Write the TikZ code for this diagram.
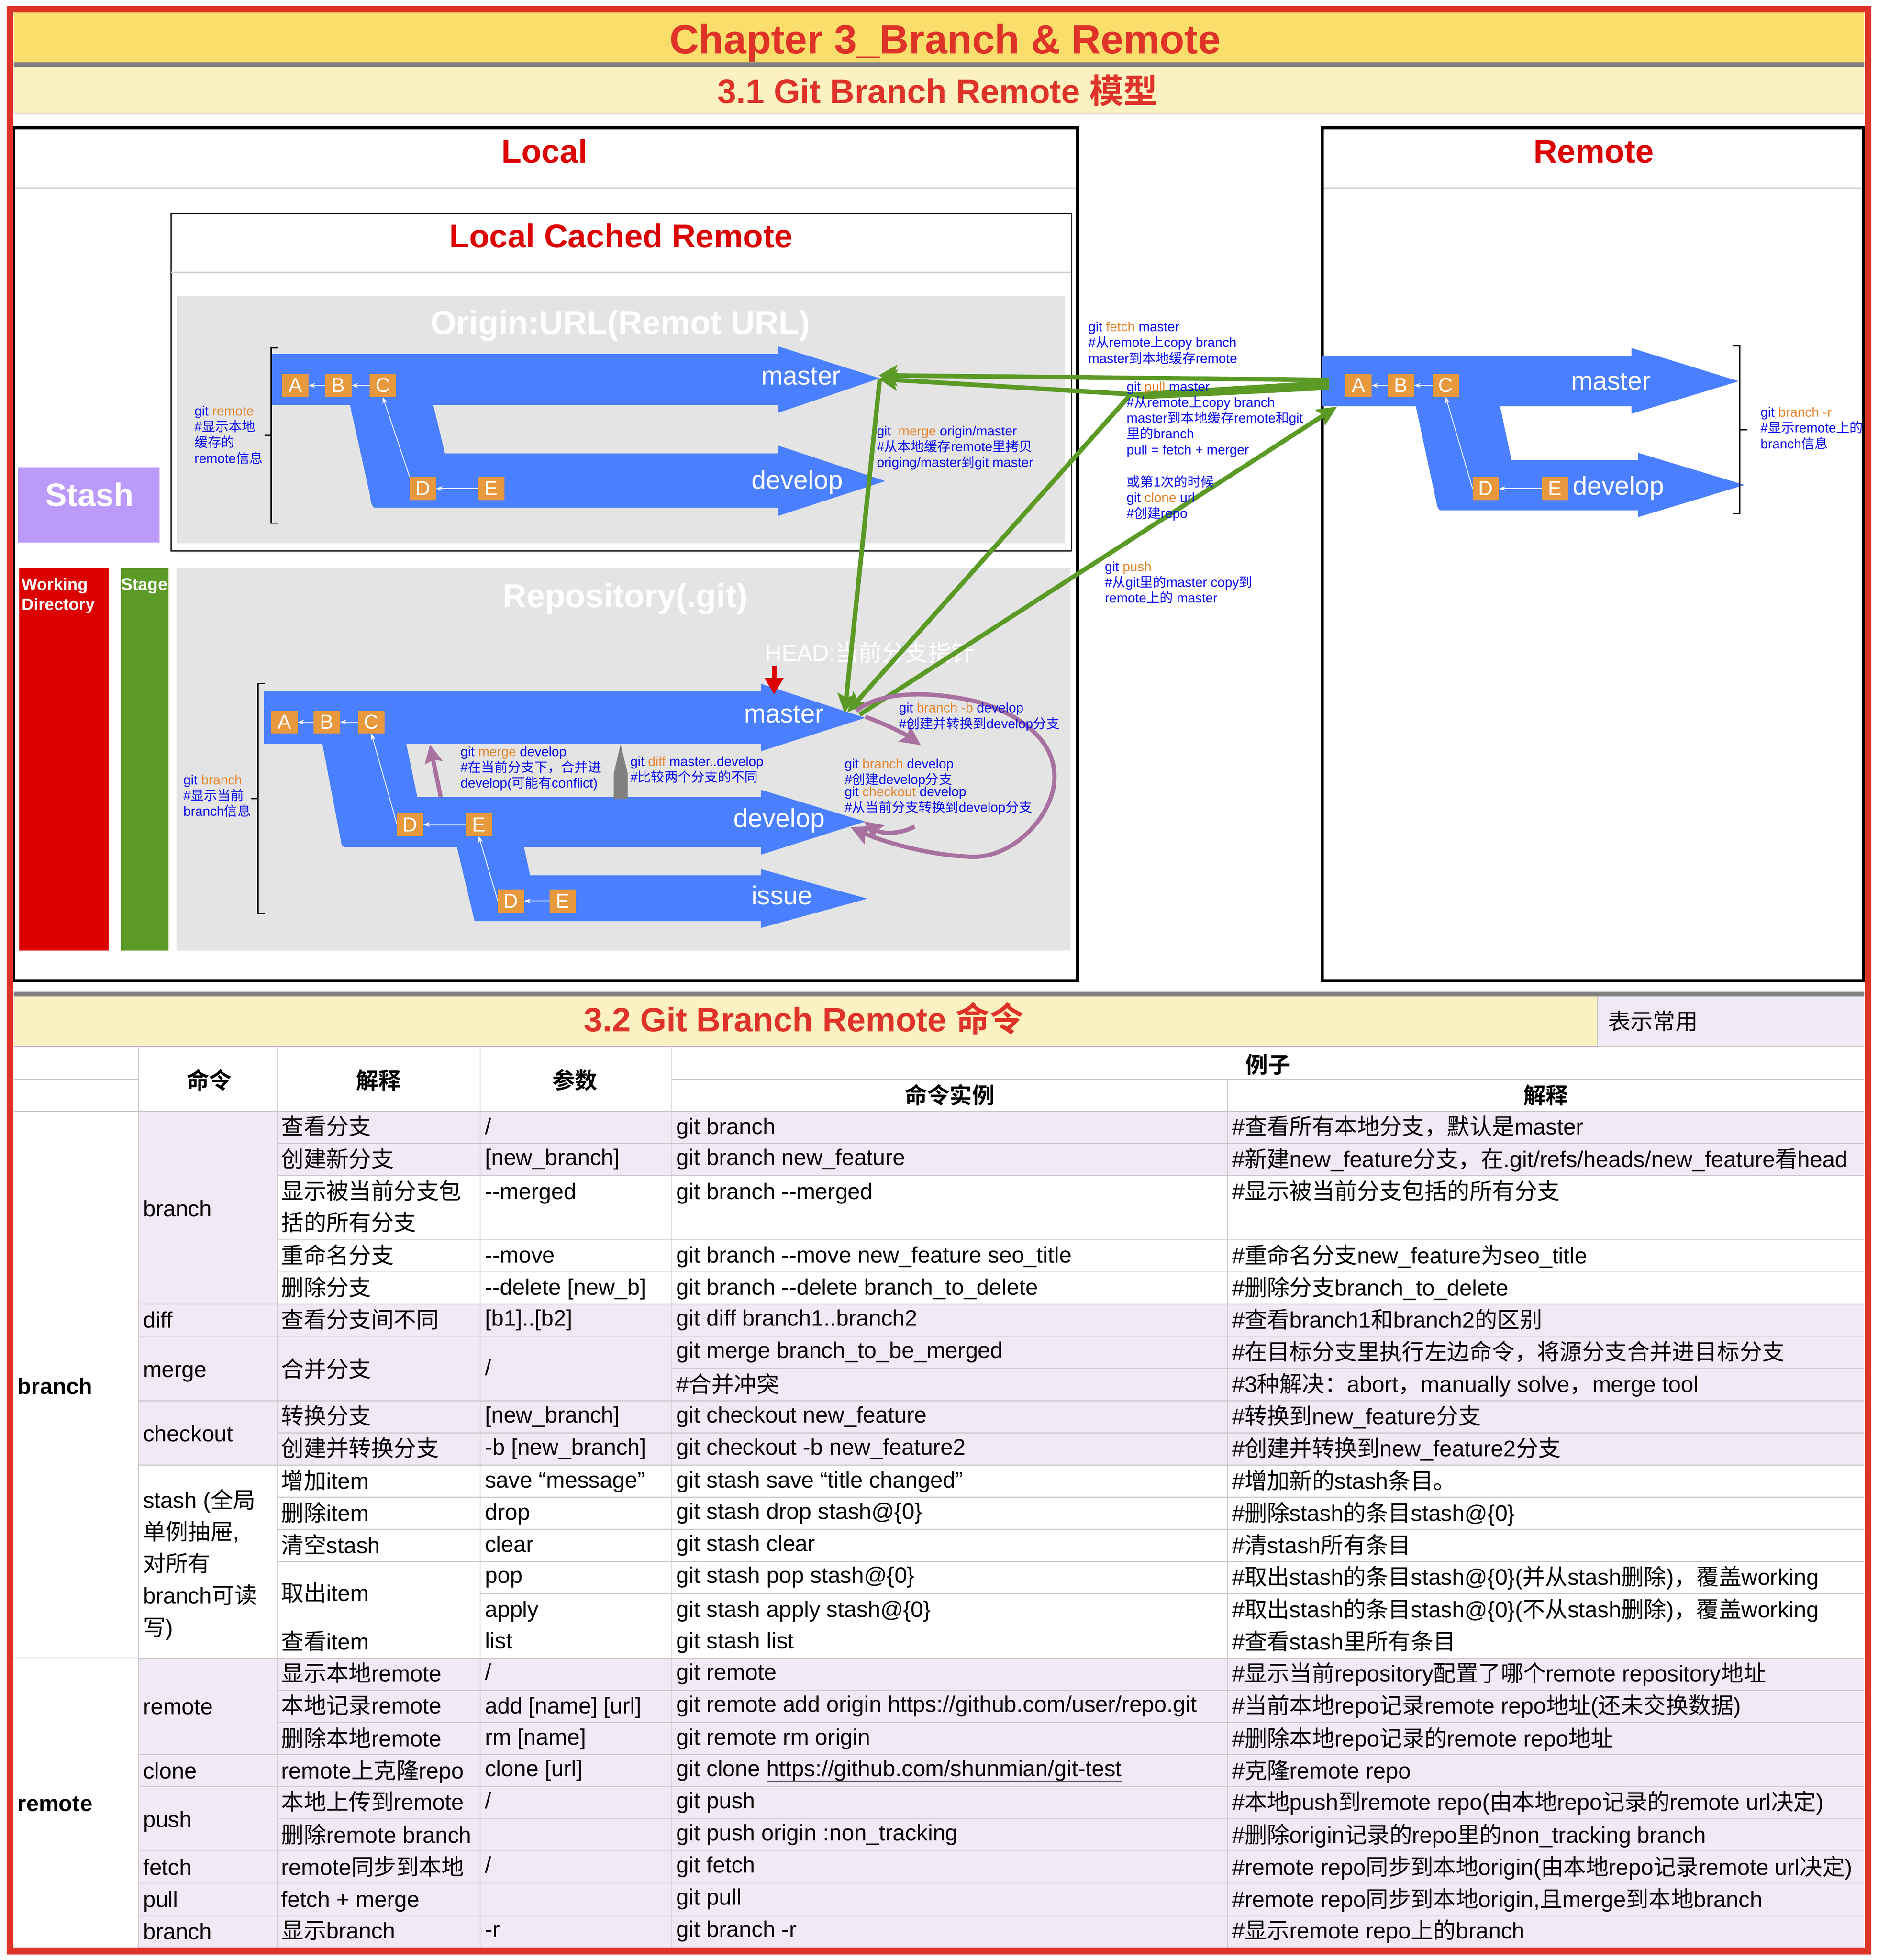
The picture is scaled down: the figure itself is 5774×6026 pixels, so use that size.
\documentclass[tikz,border=0pt]{standalone}
\usepackage{fontspec}
\usetikzlibrary{arrows.meta}
\setmainfont{Liberation Sans}
\newfontfamily\cjkf{Noto Sans CJK SC}[BoldFont={Noto Sans CJK SC Bold}]
% automatic switch to the CJK font
\XeTeXinterchartokenstate=1
\newcount\cpt
\cpt="20 \loop\ifnum\cpt<"3000 \XeTeXcharclass\cpt=0 \advance\cpt by 1 \repeat
\cpt="3000 \loop\ifnum\cpt<"A000 \XeTeXcharclass\cpt=10 \advance\cpt by 1 \repeat
\cpt="FF00 \loop\ifnum\cpt<"FFF0 \XeTeXcharclass\cpt=10 \advance\cpt by 1 \repeat
\XeTeXinterchartoks 0 10 = {\begingroup\cjkf}
\XeTeXinterchartoks 4095 10 = {\begingroup\cjkf}
\XeTeXinterchartoks 10 0 = {\endgroup}
\XeTeXinterchartoks 10 4095 = {\endgroup}
\definecolor{redline}{HTML}{DF3228}
\definecolor{titlered}{HTML}{DF3228}
\definecolor{band}{HTML}{F9DE6C}
\definecolor{bandlight}{HTML}{FCF1C1}
\definecolor{lilacline}{HTML}{C7A8E0}
\definecolor{lilac}{HTML}{F1EAF6}
\definecolor{gridc}{HTML}{CBCBCB}
\definecolor{panel}{HTML}{E4E4E4}
\definecolor{bluef}{HTML}{4A80FF}
\definecolor{orangef}{HTML}{E8983D}
\definecolor{ogtext}{HTML}{E5832B}
\definecolor{blue0}{HTML}{0000F0}
\definecolor{headred}{HTML}{DC0000}
\definecolor{greenf}{HTML}{5A9A25}
\definecolor{purplef}{HTML}{A8719F}
\definecolor{stashf}{HTML}{BB9AFB}
\definecolor{grayar}{HTML}{808080}
\newcommand\og[1]{\textcolor{ogtext}{#1}}
\newcommand\stack[1]{\vtop{\lineskiplimit=-200pt #1}}
\newcount\cellno
\newcommand\cellt[4]{\global\advance\cellno by 1
  \node[tbl] (cell\the\cellno) at (#1,{3417+98.85*(#2)+#3}) {#4};}
\tikzset{
  tbl/.style={anchor=base west,inner sep=0pt,outer sep=0pt,text=black,font=\fontsize{69.2}{98}\selectfont},
  txt/.style={anchor=base,inner sep=0pt,outer sep=0pt},
  lblsm/.style={anchor=base west,inner sep=0pt,outer sep=0pt,text=blue0,font=\fontsize{41}{48.5}\selectfont},
  heada/.style={txt,text=headred,font=\fontsize{101}{101}\selectfont\bfseries},
  ghost/.style={txt,text=white,font=\fontsize{102}{102}\selectfont\bfseries},
  brname/.style={txt,text=white,font=\fontsize{80}{80}\selectfont},
  hdr/.style={txt,text=black,font=\fontsize{69}{69}\selectfont\bfseries},
  sq/.style={fill=orangef,inner sep=0pt,outer sep=0pt,minimum width=81pt,minimum height=71pt,text=white,font=\fontsize{62}{62}\selectfont},
  wh/.style={draw=white,line width=2.5pt,-{Stealth[length=20pt,width=15pt]}},
  brk/.style={draw=black,line width=4pt},
  gridl/.style={draw=gridc,line width=2.6pt},
  grn/.style={draw=greenf,line width=14pt},
  pur/.style={draw=purplef,line width=13pt},
  thinbox/.style={draw=black,line width=3pt}
}
\begin{document}
\begin{tikzpicture}[x=1pt,y=-1pt]
\useasboundingbox (0,0) rectangle (5774,6026);
\fill[white] (0,0) rectangle (5774,6026);
% ---- title bands
\fill[band] (42,38) rectangle (5732,192);
\fill[grayar] (42,192) rectangle (5732,205);
\fill[bandlight] (42,205) rectangle (5732,351);
\draw[lilacline,line width=3pt] (42,351) -- (5732,351);
\node[txt,text=titlered,font=\fontsize{125}{125}\selectfont\bfseries] (title) at (2906,165) {Chapter 3\_Branch \& Remote};
\node[txt,text=titlered,font=\fontsize{104}{104}\selectfont\bfseries] (sec1) at (2882,318) {3.1 Git Branch Remote 模型};
% ---- Local frame
\draw[gridc,line width=3pt] (42,578) -- (3313,578);
\draw[gridc,line width=3pt] (4065,578) -- (5730,578);
\draw[black,line width=10pt] (42,393) rectangle (3313,3015);
\draw[black,line width=10pt] (4065,393) rectangle (5730,3015);
\node[heada] (local) at (1674,501) {Local};
\node[heada] (remote) at (4900,501) {Remote};
% ---- Local Cached Remote box
\draw[thinbox] (526,657) rectangle (3294,1694);
\draw[gridc,line width=3pt] (526,837) -- (3294,837);
\node[heada] (lcr) at (1909,761) {Local Cached Remote};
\fill[panel] (543,910) rectangle (3273,1670);
\node[ghost] (origin) at (1907,1027) {Origin:URL(Remot URL)};
% ---- stash / wd / stage / repo panels
\fill[stashf] (55,1437) rectangle (490,1668);
\node[txt,text=white,font=\fontsize{100}{100}\selectfont\bfseries] (stash) at (275,1556) {Stash};
\fill[headred] (59,1748) rectangle (334,2922);
\fill[greenf] (371,1748) rectangle (518,2922);
\fill[panel] (542,1748) rectangle (3291,2922);
\node[anchor=base west,inner sep=0pt,text=white,font=\fontsize{51}{62}\selectfont\bfseries] (wd) at (67,1814) {\stack{\hbox{Working}\hbox{Directory}}};
\node[anchor=base west,inner sep=0pt,text=white,font=\fontsize{52}{62}\selectfont\bfseries] (stage) at (373,1814) {Stage};
\node[ghost] (repo) at (1922,1867) {Repository(.git)};
\node[anchor=base west,inner sep=0pt,text=white,font=\fontsize{71}{71}\selectfont] (head) at (2352,2032) {HEAD:当前分支指针};
% ---- origin branches
\fill[bluef] (836,1088) -- (2393,1088) -- (2393,1065) -- (2705,1163) -- (2393,1269) -- (2393,1245) -- (1332,1245) -- (1368,1394) -- (2393,1394) -- (2393,1370) -- (2722,1479) -- (2393,1586) -- (2393,1561) -- (1151,1561) .. controls (1143,1555) and (1140,1545) .. (1137,1520) -- (1076,1245) -- (836,1245) -- cycle;
% ---- repository branches
\fill[bluef] (811,2126) -- (2339,2126) -- (2339,2102) -- (2660,2207) -- (2339,2310) -- (2339,2286) -- (1249,2286) -- (1283,2450) -- (2339,2450) -- (2339,2428) -- (2660,2526) -- (2339,2628) -- (2339,2605) -- (1611,2605) -- (1630,2691) -- (2339,2691) -- (2339,2672) -- (2667,2763) -- (2339,2853) -- (2339,2832) -- (1459,2832) -- (1405,2605) -- (1060,2605) .. controls (1053,2602) and (1050,2598) .. (1049,2590) -- (991,2286) -- (811,2286) -- cycle;
% ---- remote branches
\fill[bluef] (4065,1094) -- (5016,1094) -- (5016,1070) -- (5346,1172) -- (5016,1272) -- (5016,1249) -- (4612,1249) -- (4647,1414) -- (5036,1414) -- (5036,1392) -- (5364,1491) -- (5036,1590) -- (5036,1569) -- (4427,1569) .. controls (4422,1565) and (4420,1560) .. (4418,1552) -- (4353,1249) -- (4065,1249) -- cycle;
% ---- brackets
\draw[brk] (855,1069) -- (834,1069) -- (834,1608) -- (855,1608);
\draw[brk] (834,1338) -- (813,1338);
\draw[brk] (813,2101) -- (793,2101) -- (793,2809) -- (813,2809);
\draw[brk] (793,2455) -- (772,2455);
\draw[brk] (5328,1063) -- (5349,1063) -- (5349,1579) -- (5328,1579);
\draw[brk] (5349,1321) -- (5371,1321);
% ---- commit squares
\node[sq] (oA) at (908,1185) {A};
\node[sq] (oB) at (1040,1185) {B};
\node[sq] (oC) at (1177,1185) {C};
\node[sq] (oD) at (1300,1502) {D};
\node[sq] (oE) at (1510,1502) {E};
\draw[wh] (oB) -- (oA);
\draw[wh] (oC) -- (oB);
\draw[wh] (oE) -- (oD);
\draw[wh] (oD.north west) -- (oC.south);
\node[sq] (gA) at (875,2220) {A};
\node[sq] (gB) at (1005,2220) {B};
\node[sq] (gC) at (1142,2220) {C};
\node[sq] (gD) at (1261,2535) {D};
\node[sq] (gE) at (1472,2535) {E};
\node[sq] (iD) at (1571,2770) {D};
\node[sq] (iE) at (1730,2770) {E};
\draw[wh] (gB) -- (gA);
\draw[wh] (gC) -- (gB);
\draw[wh] (gE) -- (gD);
\draw[wh] (gD.west) -- (gC.south);
\draw[wh] (iE) -- (iD);
\draw[wh] (iD.west) -- (gE.south);
\node[sq] (rA) at (4177,1185) {A};
\node[sq] (rB) at (4307,1185) {B};
\node[sq] (rC) at (4445,1185) {C};
\node[sq] (rD) at (4568,1502) {D};
\node[sq] (rE) at (4780,1502) {E};
\draw[wh] (rB) -- (rA);
\draw[wh] (rC) -- (rB);
\draw[wh] (rE) -- (rD);
\draw[wh] (rD.west) -- (rC.south);
% ---- branch names
\node[brname] (om) at (2463,1183) {master};
\node[brname] (od) at (2451,1504) {develop};
\node[brname] (gm) at (2410,2222) {master};
\node[brname] (gd) at (2396,2544) {develop};
\node[brname] (gi) at (2404,2781) {issue};
\node[brname] (rm) at (4953,1198) {master};
\node[brname] (rd) at (4976,1521) {develop};
% ---- connector end points
\coordinate (tipOa) at (2702,1154);
\coordinate (tipOb) at (2702,1165);
\coordinate (tipGa) at (2597,2193);
\coordinate (tipGb) at (2605,2190);
\coordinate (startG) at (2643,2197);
\coordinate (remF) at (4086,1168);
\coordinate (bend) at (3477,1212);
\coordinate (remP) at (4111,1250);
\coordinate (mergeTop) at (2705,1166);
% ---- green connectors
\draw[grn,-{Stealth[length=57pt,width=66pt,inset=14pt]}] (remF) -- (tipOa);
\draw[grn,-{Stealth[length=57pt,width=66pt,inset=14pt]}] (bend) -- (tipOb);
\fill[greenf] (3477,1207) -- (3997,1175) -- (4086,1172) -- (4086,1199) -- (3518,1227) -- (3477,1219) -- cycle;
\draw[grn,-{Stealth[length=60pt,width=56pt,inset=12pt]}] (bend) -- (tipGb);
\draw[grn,-{Stealth[length=60pt,width=56pt,inset=12pt]}] (mergeTop) -- (tipGa);
\draw[grn,-{Stealth[length=62pt,width=56pt,inset=12pt]}] (startG) -- (remP);
% ---- head and diff arrows
\coordinate (hd1) at (2380,2048);
\coordinate (hd2) at (2380,2135);
\draw[headred,line width=14pt,-{Triangle[length=51pt,width=56pt]}] (hd1) -- (hd2);
\fill[grayar] (1908,2287) -- (1930,2379) -- (1930,2457) -- (1887,2457) -- (1887,2379) -- cycle;
% ---- purple connectors
\coordinate (mg1) at (1355,2450);
\coordinate (mg2) at (1322,2289);
\draw[pur,-{Stealth[length=56pt,width=54pt,inset=8pt]}] (mg1) -- (mg2);
\coordinate (pa1) at (2661,2204);
\coordinate (pa2) at (2831,2291);
\draw[pur,-{Stealth[length=62pt,width=60pt,inset=12pt]}] (pa1) .. controls (2720,2225) and (2780,2255) .. (pa2);
\coordinate (pb1) at (2812,2541);
\coordinate (pb2) at (2656,2525);
\draw[pur,-{Stealth[length=58pt,width=54pt,inset=10pt]}] (pb1) .. controls (2770,2565) and (2710,2565) .. (pb2);
\coordinate (pc1) at (2633,2186);
\coordinate (pc2) at (3010,2159);
\coordinate (pc3) at (3242,2385);
\coordinate (pc4) at (2985,2634);
\coordinate (pc5) at (2615,2543);
\draw[pur,-{Stealth[length=60pt,width=60pt,inset=10pt]}] (pc1) .. controls (2690,2135) and (2830,2115) .. (pc2) .. controls (3130,2195) and (3240,2270) .. (pc3) .. controls (3245,2500) and (3120,2640) .. (pc4) .. controls (2860,2630) and (2720,2590) .. (pc5);
% ---- small labels
\node[lblsm] (l1) at (598,1278) {\stack{\hbox{git \og{remote}}\hbox{\#显示本地}\hbox{缓存的}\hbox{remote信息}}};
\node[lblsm] (l2) at (2696,1339) {\stack{\hbox{git\ \ \og{merge} origin/master}\hbox{\#从本地缓存remote里拷贝}\hbox{origing/master到git master}}};
\node[lblsm] (l3) at (564,2412) {\stack{\hbox{git \og{branch}}\hbox{\#显示当前}\hbox{branch信息}}};
\node[lblsm] (l4) at (1416,2325) {\stack{\hbox{git \og{merge} develop}\hbox{\#在当前分支下，合并进}\hbox{develop(可能有conflict)}}};
\node[lblsm] (l5) at (1938,2355) {\stack{\hbox{git \og{diff} master..develop}\hbox{\#比较两个分支的不同}}};
\node[lblsm] (l6) at (2764,2191) {\stack{\hbox{git \og{branch -b} develop}\hbox{\#创建并转换到develop分支}}};
\node[lblsm] (l7) at (2597,2363) {\stack{\hbox{git \og{branch} develop}\hbox{\#创建develop分支}}};
\node[lblsm] (l8) at (2597,2448) {\stack{\hbox{git \og{checkout} develop}\hbox{\#从当前分支转换到develop分支}}};
\node[lblsm] (l9) at (3346,1019) {\stack{\hbox{git \og{fetch} master}\hbox{\#从remote上copy branch}\hbox{master到本地缓存remote}}};
\node[lblsm] (l10) at (3464,1203) {\stack{\hbox{git \og{pull} master}\hbox{\#从remote上copy branch}\hbox{master到本地缓存remote和git}\hbox{里的branch}\hbox{pull = fetch + merger}}};
\node[lblsm] (l11) at (3464,1496) {\stack{\hbox{或第1次的时候}\hbox{git \og{clone} url}\hbox{\#创建repo}}};
\node[lblsm] (l12) at (3397,1756) {\stack{\hbox{git \og{push}}\hbox{\#从git里的master copy到}\hbox{remote上的 master}}};
\node[lblsm] (l13) at (5413,1282) {\stack{\hbox{git \og{branch -r}}\hbox{\#显示remote上的}\hbox{branch信息}}};
% ---- section 3.2 band
\fill[grayar] (42,3049) rectangle (5732,3063);
\fill[bandlight] (42,3063) rectangle (4911,3217);
\fill[lilac] (4911,3063) rectangle (5732,3217);
\draw[lilacline,line width=3pt] (42,3217) -- (4911,3217);
\draw[gridc,line width=2pt] (4911,3063) -- (4911,3217);
\draw[gridc,line width=2pt] (4911,3217) -- (5732,3217);
\node[txt,text=titlered,font=\fontsize{104}{104}\selectfont\bfseries] (sec2) at (2471,3172) {3.2 Git Branch Remote 命令};
\node[anchor=base west,inner sep=0pt,text=black,font=\fontsize{69}{69}\selectfont] (note) at (4944,3166) {表示常用};
% ---- table fills
\fill[lilac] (425,3417) rectangle (5732,{3417+98.85*2});
\fill[lilac] (425,{3417+98.85*2}) rectangle (853,{3417+98.85*6});
\fill[lilac] (425,{3417+98.85*6}) rectangle (5732,{3417+98.85*11});
\fill[lilac] (425,{3417+98.85*17}) rectangle (5732,5987);
% ---- table grid
\foreach \r in {0,6,7,9,11,17,20,21,23,24,25} \draw[gridl] (425,{3417+98.85*\r}) -- (853,{3417+98.85*\r});
\foreach \r in {0,1,2,4,5,6,7,9,10,11,12,13,14,16,17,18,19,20,21,22,23,24,25} \draw[gridl] (853,{3417+98.85*\r}) -- (1476,{3417+98.85*\r});
\foreach \r in {0,1,2,4,5,6,7,9,10,11,12,13,14,15,16,17,18,19,20,21,22,23,24,25} \draw[gridl] (1476,{3417+98.85*\r}) -- (2066,{3417+98.85*\r});
\foreach \r in {0,1,2,4,5,6,7,8,9,10,11,12,13,14,15,16,17,18,19,20,21,22,23,24,25} \draw[gridl] (2066,{3417+98.85*\r}) -- (5732,{3417+98.85*\r});
\draw[gridl] (42,3417) -- (425,3417);
\draw[gridl] (42,5097) -- (425,5097);
\draw[gridl] (42,3318) -- (425,3318);
\draw[gridl] (2066,3318) -- (5732,3318);
\foreach \cx in {425,853,1476,2066} \draw[gridl] (\cx,3217) -- (\cx,5987);
\draw[gridl] (3774,3318) -- (3774,5987);
% ---- table header
\node[hdr] (h1) at (643,3347) {命令};
\node[hdr] (h2) at (1164,3347) {解释};
\node[hdr] (h3) at (1768,3347) {参数};
\node[hdr] (h4) at (3899,3299) {例子};
\node[hdr] (h5) at (2920,3393) {命令实例};
\node[hdr] (h6) at (4753,3393) {解释};
\node[anchor=base west,inner sep=0pt,text=black,font=\fontsize{69}{69}\selectfont\bfseries] (gb) at (54,4286) {branch};
\node[anchor=base west,inner sep=0pt,text=black,font=\fontsize{69}{69}\selectfont\bfseries] (gr) at (54,5569) {remote};
% ---- col 1
\cellt{440}{0}{323}{branch}
\cellt{440}{6}{72}{diff}
\cellt{440}{7}{125}{merge}
\cellt{440}{9}{125}{checkout}
\cellt{440}{11}{132}{\stack{\hbox{stash (全局}\hbox{单例抽屉,}\hbox{对所有}\hbox{branch可读}\hbox{写)}}}
\cellt{440}{17}{174}{remote}
\cellt{440}{20}{74}{clone}
\cellt{440}{21}{125}{push}
\cellt{440}{23}{74}{fetch}
\cellt{440}{24}{74}{pull}
\cellt{440}{25}{74}{branch}
% ---- col 2
\cellt{865}{0}{72}{查看分支}
\cellt{865}{1}{72}{创建新分支}
\cellt{865}{2}{72}{\stack{\baselineskip=97pt\hbox{显示被当前分支包}\hbox{括的所有分支}}}
\cellt{865}{4}{72}{重命名分支}
\cellt{865}{5}{72}{删除分支}
\cellt{865}{6}{72}{查看分支间不同}
\cellt{865}{7}{126}{合并分支}
\cellt{865}{9}{72}{转换分支}
\cellt{865}{10}{72}{创建并转换分支}
\cellt{865}{11}{74}{增加item}
\cellt{865}{12}{74}{删除item}
\cellt{865}{13}{74}{清空stash}
\cellt{865}{14}{122}{取出item}
\cellt{865}{16}{74}{查看item}
\cellt{865}{17}{72}{显示本地remote}
\cellt{865}{18}{72}{本地记录remote}
\cellt{865}{19}{74}{删除本地remote}
\cellt{865}{20}{74}{remote上克隆repo}
\cellt{865}{21}{72}{本地上传到remote}
\cellt{865}{22}{74}{删除remote branch}
\cellt{865}{23}{74}{remote同步到本地}
\cellt{865}{24}{74}{fetch + merge}
\cellt{865}{25}{72}{显示branch}
% ---- col 3
\cellt{1491}{0}{70}{/}
\cellt{1491}{1}{67}{[new\_branch]}
\cellt{1491}{2}{72}{-{}-merged}
\cellt{1491}{4}{70}{-{}-move}
\cellt{1491}{5}{70}{-{}-delete [new\_b]}
\cellt{1491}{6}{67}{[b1]..[b2]}
\cellt{1491}{7}{120}{/}
\cellt{1491}{9}{67}{[new\_branch]}
\cellt{1491}{10}{67}{-b [new\_branch]}
\cellt{1491}{11}{70}{save “message”}
\cellt{1491}{12}{70}{drop}
\cellt{1491}{13}{70}{clear}
\cellt{1491}{14}{66}{pop}
\cellt{1491}{15}{72}{apply}
\cellt{1491}{16}{70}{list}
\cellt{1491}{17}{67}{/}
\cellt{1491}{18}{72}{add [name] [url]}
\cellt{1491}{19}{70}{rm [name]}
\cellt{1491}{20}{67}{clone [url]}
\cellt{1491}{21}{67}{/}
\cellt{1491}{23}{67}{/}
\cellt{1491}{25}{67}{-r}
% ---- col 4
\cellt{2080}{0}{70}{git branch}
\cellt{2080}{1}{67}{git branch new\_feature}
\cellt{2080}{2}{72}{git branch -{}-merged}
\cellt{2080}{4}{70}{git branch -{}-move new\_feature seo\_title}
\cellt{2080}{5}{70}{git branch -{}-delete branch\_to\_delete}
\cellt{2080}{6}{67}{git diff branch1..branch2}
\cellt{2080}{7}{67}{git merge branch\_to\_be\_merged}
\cellt{2080}{8}{74}{\#合并冲突}
\cellt{2080}{9}{67}{git checkout new\_feature}
\cellt{2080}{10}{67}{git checkout -b new\_feature2}
\cellt{2080}{11}{70}{git stash save “title changed”}
\cellt{2080}{12}{67}{git stash drop stash@\{0\}}
\cellt{2080}{13}{67}{git stash clear}
\cellt{2080}{14}{66}{git stash pop stash@\{0\}}
\cellt{2080}{15}{72}{git stash apply stash@\{0\}}
\cellt{2080}{16}{70}{git stash list}
\cellt{2080}{17}{67}{git remote}
\cellt{2080}{18}{67}{git remote add origin \underline{https://github.com/user/repo.git}}
\cellt{2080}{19}{70}{git remote rm origin}
\cellt{2080}{20}{67}{git clone \underline{https://github.com/shunmian/git-test}}
\cellt{2080}{21}{67}{git push}
\cellt{2080}{22}{67}{git push origin :non\_tracking}
\cellt{2080}{23}{67}{git fetch}
\cellt{2080}{24}{67}{git pull}
\cellt{2080}{25}{67}{git branch -r}
% ---- col 5
\cellt{3788}{0}{72}{\#查看所有本地分支，默认是master}
\cellt{3788}{1}{72}{\#新建new\_feature分支，在.git/refs/heads/new\_feature看head}
\cellt{3788}{2}{72}{\#显示被当前分支包括的所有分支}
\cellt{3788}{4}{72}{\#重命名分支new\_feature为seo\_title}
\cellt{3788}{5}{72}{\#删除分支branch\_to\_delete}
\cellt{3788}{6}{72}{\#查看branch1和branch2的区别}
\cellt{3788}{7}{72}{\#在目标分支里执行左边命令，将源分支合并进目标分支}
\cellt{3788}{8}{72}{\#3种解决：abort，manually solve，merge tool}
\cellt{3788}{9}{72}{\#转换到new\_feature分支}
\cellt{3788}{10}{72}{\#创建并转换到new\_feature2分支}
\cellt{3788}{11}{74}{\#增加新的stash条目。}
\cellt{3788}{12}{74}{\#删除stash的条目stash@\{0\}}
\cellt{3788}{13}{74}{\#清stash所有条目}
\cellt{3788}{14}{72}{\#取出stash的条目stash@\{0\}(并从stash删除)，覆盖working}
\cellt{3788}{15}{74}{\#取出stash的条目stash@\{0\}(不从stash删除)，覆盖working}
\cellt{3788}{16}{74}{\#查看stash里所有条目}
\cellt{3788}{17}{72}{\#显示当前repository配置了哪个remote repository地址}
\cellt{3788}{18}{72}{\#当前本地repo记录remote repo地址(还未交换数据)}
\cellt{3788}{19}{74}{\#删除本地repo记录的remote repo地址}
\cellt{3788}{20}{74}{\#克隆remote repo}
\cellt{3788}{21}{72}{\#本地push到remote repo(由本地repo记录的remote url决定)}
\cellt{3788}{22}{74}{\#删除origin记录的repo里的non\_tracking branch}
\cellt{3788}{23}{74}{\#remote repo同步到本地origin(由本地repo记录remote url决定)}
\cellt{3788}{24}{74}{\#remote repo同步到本地origin,且merge到本地branch}
\cellt{3788}{25}{72}{\#显示remote repo上的branch}
% ---- outer frame
\draw[redline,line width=21pt] (31,28) rectangle (5743,5998);
\end{tikzpicture}
\end{document}
